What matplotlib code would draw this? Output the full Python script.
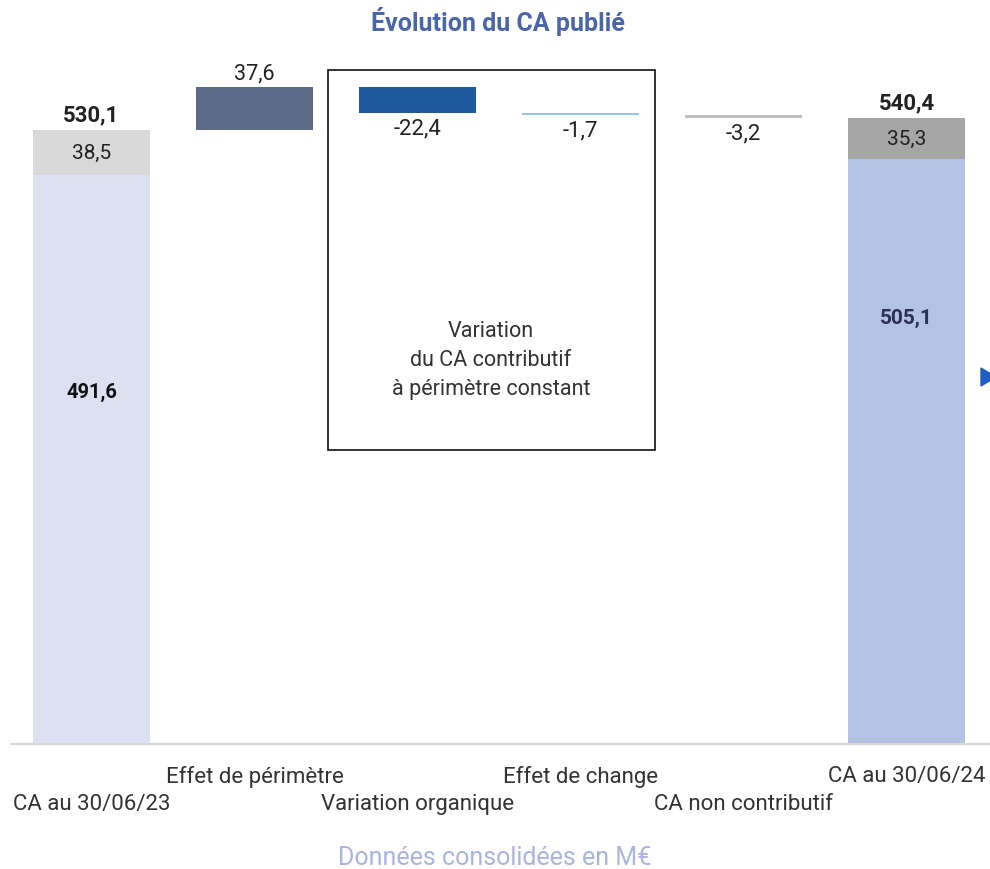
import matplotlib
matplotlib.use("Agg")
import matplotlib.pyplot as plt
from matplotlib.patches import Rectangle, Polygon

plt.rcParams['font.family'] = ['Roboto', 'DejaVu Sans']

categories = ["CA au 30/06/23", "Effet de périmètre", "Variation organique",
              "Effet de change", "CA non contributif", "CA au 30/06/24"]
start_contrib = 491.6
start_noncontrib = 38.5
start_total = 530.1
deltas = [37.6, -22.4, -1.7, -3.2]
delta_labels = ["37,6", "-22,4", "-1,7", "-3,2"]
end_contrib = 505.1
end_noncontrib = 35.3
end_total = 540.4

W, H = 990, 870
fig = plt.figure(figsize=(W / 100, H / 100), dpi=100)
ax = fig.add_axes([0, 0, 1, 1])
ppu = 1.158  # pixels per unit
x0px, dxpx, base_px = 91.5, 163.0, 745.0
ax.set_xlim((0 - x0px) / dxpx, (W - x0px) / dxpx)
ax.set_ylim(-(H - base_px) / ppu, base_px / ppu)
ax.axis('off')

bw = 117 / dxpx
dark = '#222222'

# start bar
ax.bar(0, start_contrib, width=bw, color='#dce0f1')
ax.bar(0, start_noncontrib, bottom=start_contrib, width=bw, color='#d9d9d9')
ax.text(0, start_total + 4, "530,1", ha='center', va='bottom', fontsize=16, fontweight='bold', color=dark)
ax.text(0, start_contrib + start_noncontrib / 2, "38,5", ha='center', va='center', fontsize=15, color=dark)
ax.text(0, start_contrib * 0.62, "491,6", ha='center', va='center', fontsize=14.5, fontweight='bold', color='#111111')

# deltas
colors = ['#5b6a87', '#1f5a9e', '#9dc3e6', '#bfbfbf']
level = start_total
for i, (d, c, lab) in enumerate(zip(deltas, colors, delta_labels), start=1):
    bottom = level if d >= 0 else level + d
    ax.bar(i, abs(d), bottom=bottom, width=bw, color=c)
    if d >= 0:
        ax.text(i, level + d + 3, lab, ha='center', va='bottom', fontsize=15.5, color=dark)
    else:
        ax.text(i, level + d - 4, lab, ha='center', va='top', fontsize=16, color=dark)
    level += d

# end bar
ax.bar(5, end_contrib, width=bw, color='#b4c2e3')
ax.bar(5, end_noncontrib, bottom=end_contrib, width=bw, color='#a6a6a6')
ax.text(5, end_total + 4, "540,4", ha='center', va='bottom', fontsize=16, fontweight='bold', color=dark)
ax.text(5, end_contrib + end_noncontrib / 2, "35,3", ha='center', va='center', fontsize=15, color=dark)
ax.text(5, end_contrib * 0.73, "505,1", ha='center', va='center', fontsize=15, fontweight='bold', color='#2b3056')

# baseline
ax.plot([(10 - x0px) / dxpx, (W - x0px) / dxpx], [0, 0], color='#d9d9d9', lw=1.5, solid_capstyle='butt')

# category labels (staggered)
for i, cat in enumerate(categories):
    ypx = 805 if i % 2 == 0 else 777
    ax.text(i, (base_px - ypx) / ppu, cat, ha='center', va='center', fontsize=16, color='#333333')

# box
fig.patches.append(Rectangle((328 / W, 1 - 451 / H), 327 / W, 380 / H, transform=fig.transFigure,
                             fill=False, edgecolor='#111111', lw=1.2))
fig.text(491 / W, 1 - 361 / H, "Variation\ndu CA contributif\nà périmètre constant", ha='center', va='center',
         fontsize=15.5, color='#333333', linespacing=1.5)

# title and footer
fig.text(498 / W, 1 - 22 / H, "Évolution du CA publié", ha='center', va='center', fontsize=18,
         fontweight='bold', color='#4a65a8')
fig.text(495 / W, 1 - 858 / H, "Données consolidées en M€", ha='center', va='center', fontsize=18,
         color='#a9b4e0')

# right-edge marker
fig.patches.append(Polygon([(981 / W, 1 - 369 / H), (981 / W, 1 - 387 / H), (996 / W, 1 - 378 / H)],
                           closed=True, transform=fig.transFigure, color='#1f5fc4'))

fig.savefig("out.png", dpi=100)
